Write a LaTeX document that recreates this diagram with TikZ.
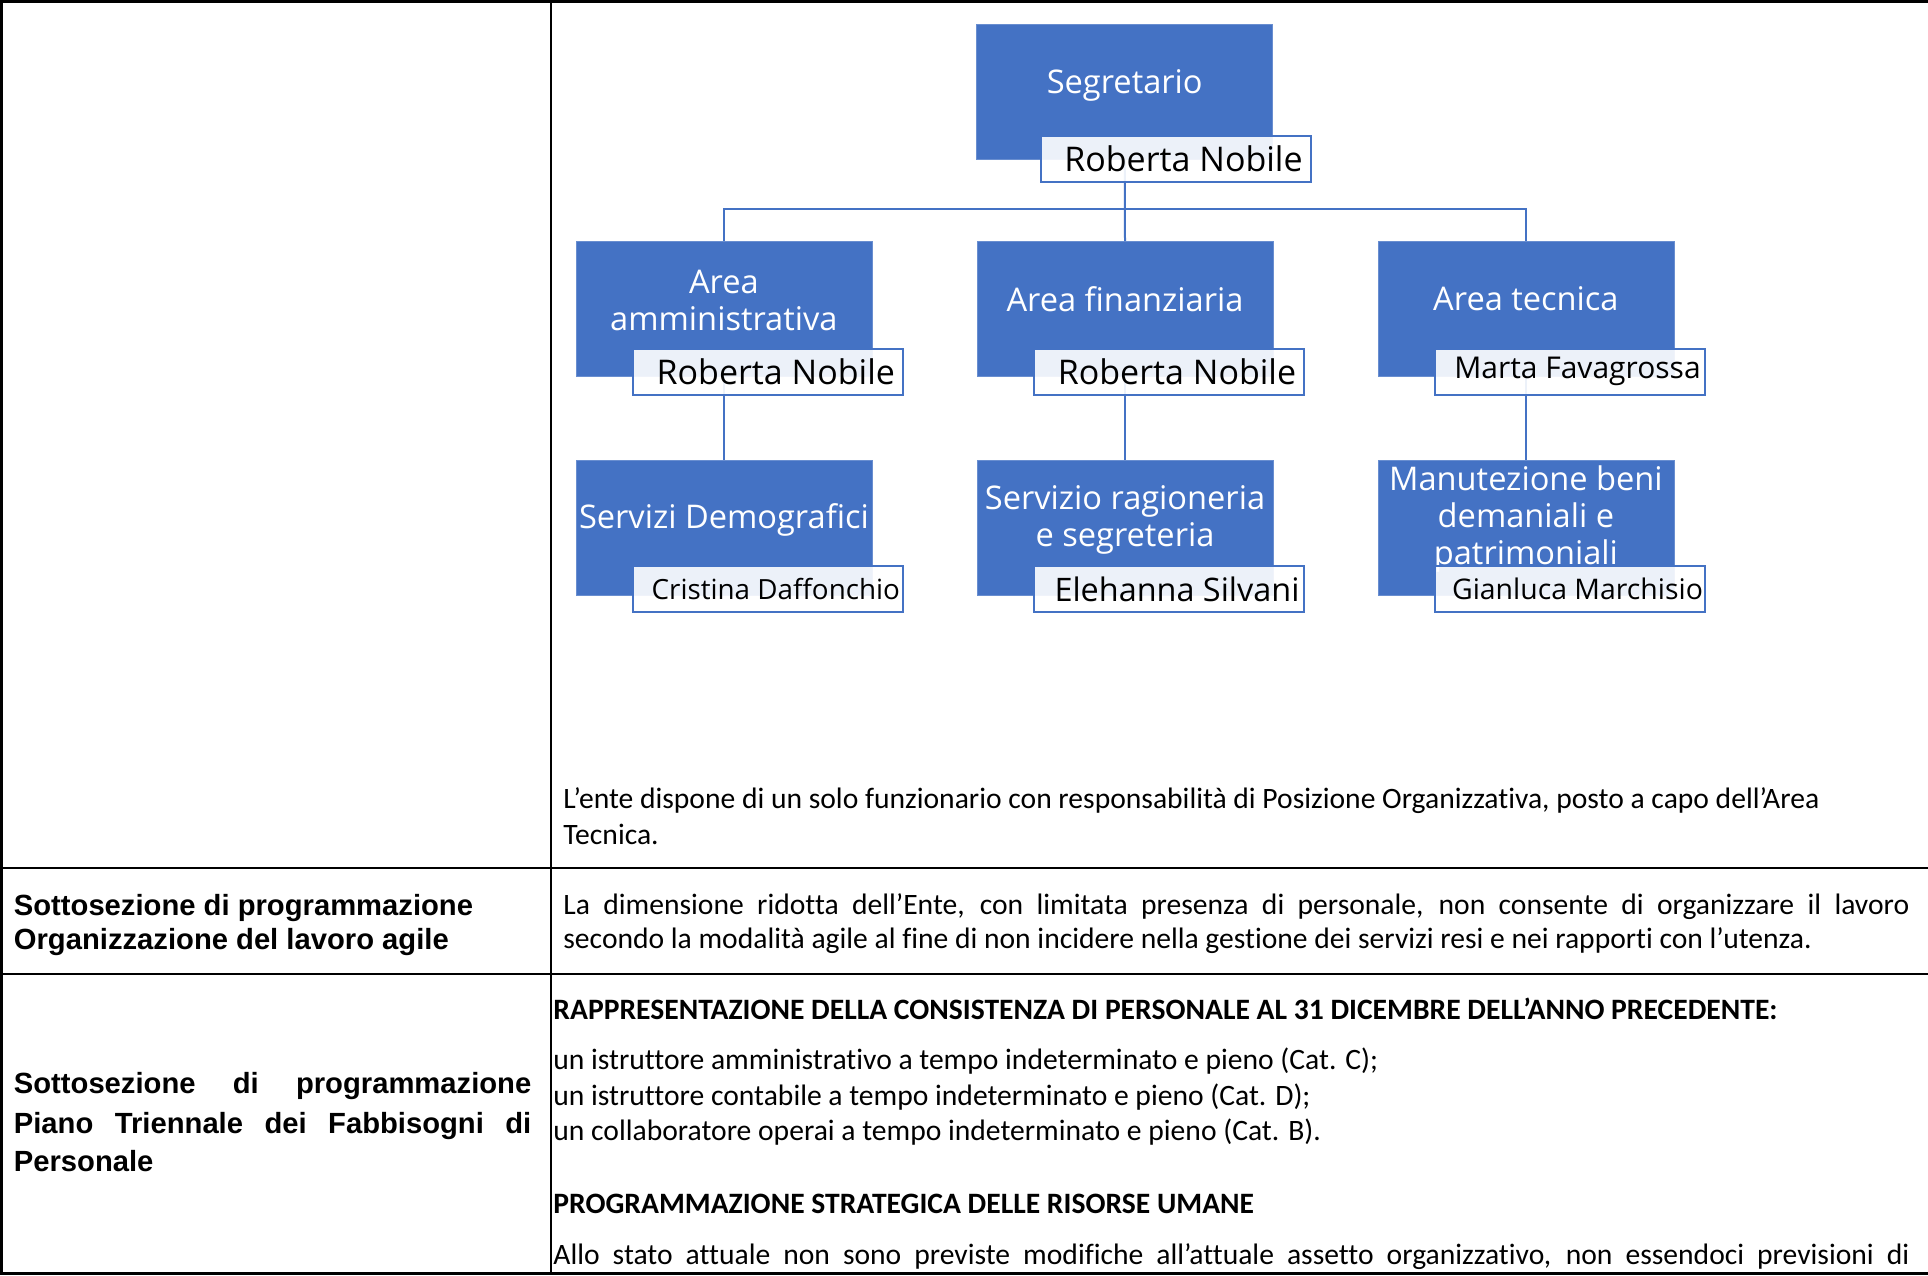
\documentclass[tikz,border=0pt]{standalone}
\usepackage{fontspec}
\setmainfont{Carlito}[Ligatures=NoCommon]
\newfontfamily\chartfont{Open Sans}
\newfontfamily\headfont{Liberation Sans}
\usetikzlibrary{positioning}
\definecolor{officeblue}{HTML}{4472C4}
\tikzset{
  unit/.style={fill=officeblue,draw=officeblue!80!white,minimum width=148pt,minimum height=67.5pt,inner sep=0pt},
  unittext/.style={text=white,inner sep=0pt,align=center,font=\chartfont\fontsize{16.3}{18.5}\selectfont},
  namebox/.style={draw=officeblue,line width=1pt,fill=white,fill opacity=.9,text opacity=1,text=black,
    minimum width=135pt,minimum height=23pt,inner sep=0pt,font=\chartfont\fontsize{17}{18}\selectfont},
  namesize/.style={font=\chartfont\fontsize{#1}{#1}\selectfont},
  link/.style={draw=officeblue,line width=1pt},
  rule/.style={line width=1.3pt},
  body/.style={anchor=base west,inner sep=0pt,font=\fontsize{14.8}{18}\selectfont},
  bodybold/.style={body,font=\bfseries\fontsize{14.8}{18}\selectfont},
  head/.style={anchor=base west,inner sep=0pt,font=\headfont\bfseries\fontsize{14.6}{17}\selectfont},
}

\begin{document}
\begin{tikzpicture}[x=0.5pt,y=-0.5pt]
\useasboundingbox (0,0) rectangle (1928,1275);

% table
\draw[rule] (0,1.5) -- (1928,1.5);
\draw[rule] (1.5,0) -- (1.5,1275);
\draw[rule] (551,0) -- (551,1275);
\draw[rule] (0,868) -- (1928,868);
\draw[rule] (0,974) -- (1928,974);
\draw[rule] (0,1273.5) -- (1928,1273.5);

% org chart
\node[unit] (seg) at (1124.7,92) {};
\node[unit] (aa) at (723.9,309) {};
\node[unit] (af) at (1125,309) {};
\node[unit] (at) at (1525.9,309) {};
\node[unit] (sd) at (723.9,527.5) {};
\node[unit] (sr) at (1125,527.5) {};
\node[unit] (mb) at (1525.9,527.5) {};

\node[unittext] (seg-t) at (1124.7,85) {Segretario};
\node[unittext] (aa-t) at (723.9,300) {Area\\amministrativa};
\node[unittext] (af-t) at (1125,299) {Area finanziaria};
\node[unittext] (at-t) at (1525.9,299) {Area tecnica};
\node[unittext] (sd-t) at (723.9,520) {Servizi Demografici};
\node[unittext] (sr-t) at (1125,520) {Servizio ragioneria\\e segreteria};
\node[unittext] (mb-t) at (1525.9,519) {Manutezione beni\\demaniali e\\patrimoniali};

\coordinate (bar) at (0,209);
\draw[link] (seg.south) -- (af.north);
\draw[link] (seg.south |- bar) -| (aa.north);
\draw[link] (seg.south |- bar) -| (at.north);
\draw[link] (aa.south) -- (sd.north);
\draw[link] (af.south) -- (sr.north);
\draw[link] (at.south) -- (mb.north);

\node[namebox] (seg-n) at (1175.5,158.5) {\hspace*{8pt}Roberta Nobile};
\node[namebox] (aa-n) at (767.8,371.5) {\hspace*{8pt}Roberta Nobile};
\node[namebox] (af-n) at (1169,371.5) {\hspace*{8pt}Roberta Nobile};
\node[namebox,namesize=15] (at-n) at (1569.5,371.5) {\hspace*{8pt}Marta Favagrossa};
\node[namebox,namesize=13.9] (sd-n) at (767.8,589) {\hspace*{8pt}Cristina Daffonchio};
\node[namebox,namesize=16.2] (sr-n) at (1169,589) {\hspace*{8pt}Elehanna Silvani};
\node[namebox,namesize=14.2] (mb-n) at (1569.5,589) {\hspace*{8pt}Gianluca Marchisio};

% row 1
\node[body] (po-1) at (563,808) {L’ente dispone di un solo funzionario con responsabilità di Posizione Organizzativa, posto a capo dell’Area};
\node[body] (po-2) at (563,844) {Tecnica.};

% row 2
\node[head] (agile-1) at (13.5,915) {Sottosezione di programmazione};
\node[head] (agile-2) at (13.5,949) {Organizzazione del lavoro agile};
\node[body] (agile-3) at (563,914) {\makebox[673pt][s]{La dimensione ridotta dell’Ente, con limitata presenza di personale, non consente di organizzare il lavoro}};
\node[body] (agile-4) at (563,948) {secondo la modalità agile al fine di non incidere nella gestione dei servizi resi e nei rapporti con l’utenza.};

% row 3
\node[head] (pt-1) at (13.5,1093) {\makebox[258.7pt][s]{Sottosezione di programmazione}};
\node[head] (pt-2) at (13.5,1133) {\makebox[258.7pt][s]{Piano Triennale dei Fabbisogni di}};
\node[head] (pt-3) at (13.5,1171) {Personale};

\node[bodybold] (cons-h) at (553,1019) {RAPPRESENTAZIONE DELLA CONSISTENZA DI PERSONALE AL 31 DICEMBRE DELL’ANNO PRECEDENTE:};
\foreach \y/\t in {1069/{un istruttore amministrativo a tempo indeterminato e pieno (Cat. C);},
                   1105/{un istruttore contabile a tempo indeterminato e pieno (Cat. D);},
                   1140/{un collaboratore operai a tempo indeterminato e pieno (Cat. B).}}
  \node[body] (cons-\y) at (553,\y) {\t};
\node[bodybold] (strat-h) at (553,1213) {PROGRAMMAZIONE STRATEGICA DELLE RISORSE UMANE};
\node[body] (strat-1) at (553,1264) {\makebox[678pt][s]{Allo stato attuale non sono previste modifiche all’attuale assetto organizzativo, non essendoci previsioni di}};
\end{tikzpicture}
\end{document}
